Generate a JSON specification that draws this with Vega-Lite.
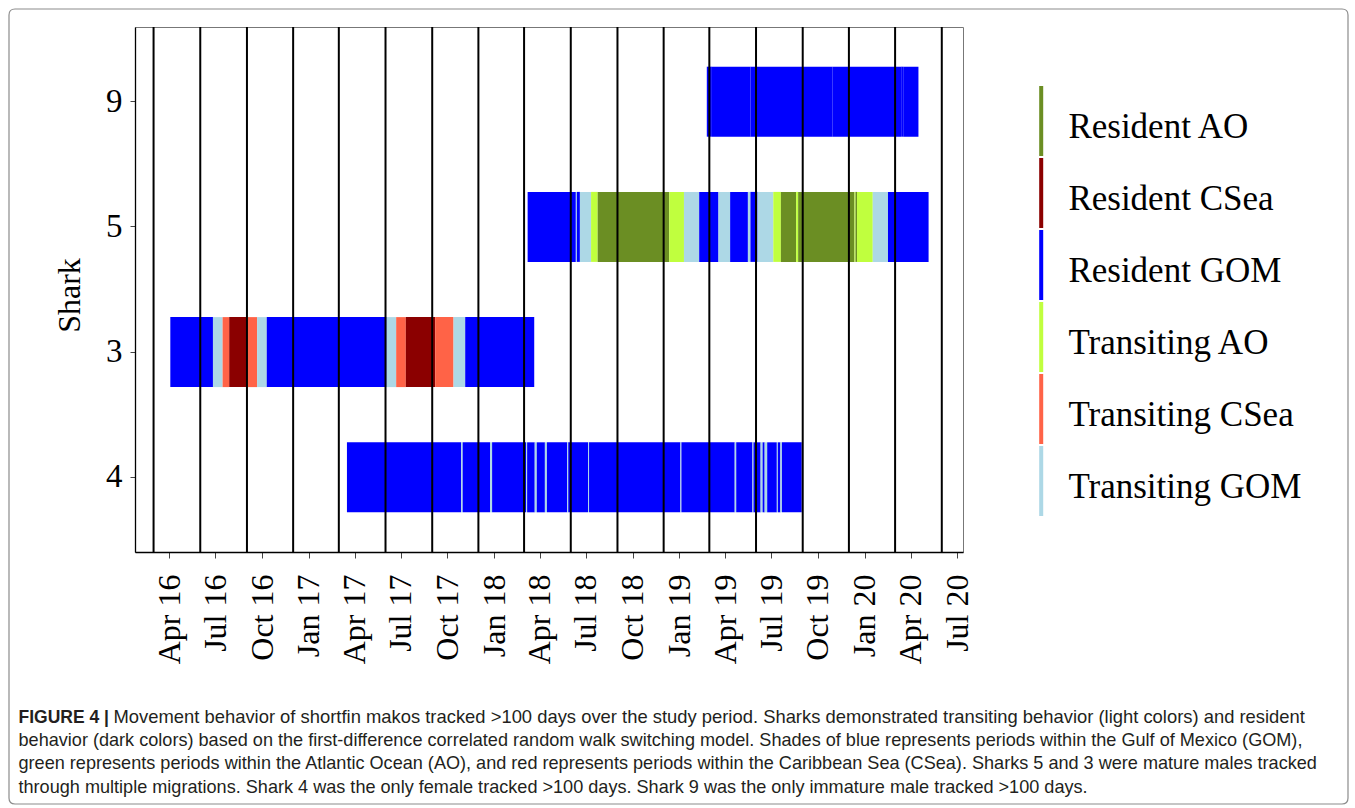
{
  "$schema": "https://vega.github.io/schema/vega-lite/v6.json",
  "width": 828,
  "height": 525,
  "autosize": {"type": "none"},
  "padding": {"left": 135, "top": 27, "right": 392, "bottom": 256},
  "background": "white",
  "config": {
    "view": {"stroke": "#777", "strokeWidth": 1},
    "font": "Liberation Serif"
  },
  "resolve": {"axis": {"x": "independent"}},
  "layer": [
    {
      "data": {
        "values": [
          {"shark": "3", "start": "2016-04-03", "end": "2016-06-26", "behavior": "Resident GOM"},
          {"shark": "3", "start": "2016-06-26", "end": "2016-07-15", "behavior": "Transiting GOM"},
          {"shark": "3", "start": "2016-07-15", "end": "2016-07-28", "behavior": "Transiting CSea"},
          {"shark": "3", "start": "2016-07-28", "end": "2016-08-31", "behavior": "Resident CSea"},
          {"shark": "3", "start": "2016-08-31", "end": "2016-09-21", "behavior": "Transiting CSea"},
          {"shark": "3", "start": "2016-09-21", "end": "2016-10-10", "behavior": "Transiting GOM"},
          {"shark": "3", "start": "2016-10-10", "end": "2017-06-03", "behavior": "Resident GOM"},
          {"shark": "3", "start": "2017-06-03", "end": "2017-06-22", "behavior": "Transiting GOM"},
          {"shark": "3", "start": "2017-06-22", "end": "2017-07-11", "behavior": "Transiting CSea"},
          {"shark": "3", "start": "2017-07-11", "end": "2017-09-07", "behavior": "Resident CSea"},
          {"shark": "3", "start": "2017-09-07", "end": "2017-10-13", "behavior": "Transiting CSea"},
          {"shark": "3", "start": "2017-10-13", "end": "2017-11-05", "behavior": "Transiting GOM"},
          {"shark": "3", "start": "2017-11-05", "end": "2018-03-21", "behavior": "Resident GOM"},

          {"shark": "4", "start": "2017-03-17", "end": "2017-10-28", "behavior": "Resident GOM"},
          {"shark": "4", "start": "2017-10-28", "end": "2017-10-31", "behavior": "Transiting GOM"},
          {"shark": "4", "start": "2017-10-31", "end": "2017-12-24", "behavior": "Resident GOM"},
          {"shark": "4", "start": "2017-12-24", "end": "2017-12-28", "behavior": "Transiting GOM"},
          {"shark": "4", "start": "2017-12-28", "end": "2018-03-05", "behavior": "Resident GOM"},
          {"shark": "4", "start": "2018-03-05", "end": "2018-03-07", "behavior": "Transiting GOM"},
          {"shark": "4", "start": "2018-03-07", "end": "2018-03-22", "behavior": "Resident GOM"},
          {"shark": "4", "start": "2018-03-22", "end": "2018-03-26", "behavior": "Transiting GOM"},
          {"shark": "4", "start": "2018-03-26", "end": "2018-04-11", "behavior": "Resident GOM"},
          {"shark": "4", "start": "2018-04-11", "end": "2018-04-15", "behavior": "Transiting GOM"},
          {"shark": "4", "start": "2018-04-15", "end": "2018-05-25", "behavior": "Resident GOM"},
          {"shark": "4", "start": "2018-05-25", "end": "2018-05-27", "behavior": "Transiting GOM"},
          {"shark": "4", "start": "2018-05-27", "end": "2018-07-05", "behavior": "Resident GOM"},
          {"shark": "4", "start": "2018-07-05", "end": "2018-07-07", "behavior": "Transiting GOM"},
          {"shark": "4", "start": "2018-07-07", "end": "2019-01-03", "behavior": "Resident GOM"},
          {"shark": "4", "start": "2019-01-03", "end": "2019-01-05", "behavior": "Transiting GOM"},
          {"shark": "4", "start": "2019-01-05", "end": "2019-04-20", "behavior": "Resident GOM"},
          {"shark": "4", "start": "2019-04-20", "end": "2019-04-23", "behavior": "Transiting GOM"},
          {"shark": "4", "start": "2019-04-23", "end": "2019-05-25", "behavior": "Resident GOM"},
          {"shark": "4", "start": "2019-05-25", "end": "2019-05-27", "behavior": "Transiting GOM"},
          {"shark": "4", "start": "2019-05-27", "end": "2019-06-10", "behavior": "Resident GOM"},
          {"shark": "4", "start": "2019-06-10", "end": "2019-06-14", "behavior": "Transiting GOM"},
          {"shark": "4", "start": "2019-06-14", "end": "2019-06-18", "behavior": "Resident GOM"},
          {"shark": "4", "start": "2019-06-18", "end": "2019-06-23", "behavior": "Transiting GOM"},
          {"shark": "4", "start": "2019-06-23", "end": "2019-07-12", "behavior": "Resident GOM"},
          {"shark": "4", "start": "2019-07-12", "end": "2019-07-14", "behavior": "Transiting GOM"},
          {"shark": "4", "start": "2019-07-14", "end": "2019-07-19", "behavior": "Resident GOM"},
          {"shark": "4", "start": "2019-07-19", "end": "2019-07-22", "behavior": "Transiting GOM"},
          {"shark": "4", "start": "2019-07-22", "end": "2019-08-30", "behavior": "Resident GOM"},

          {"shark": "5", "start": "2018-03-08", "end": "2018-06-11", "behavior": "Resident GOM"},
          {"shark": "5", "start": "2018-06-11", "end": "2018-06-13", "behavior": "Transiting GOM"},
          {"shark": "5", "start": "2018-06-13", "end": "2018-06-19", "behavior": "Resident GOM"},
          {"shark": "5", "start": "2018-06-19", "end": "2018-07-11", "behavior": "Transiting GOM"},
          {"shark": "5", "start": "2018-07-11", "end": "2018-07-24", "behavior": "Transiting AO"},
          {"shark": "5", "start": "2018-07-24", "end": "2018-12-12", "behavior": "Resident AO"},
          {"shark": "5", "start": "2018-12-12", "end": "2019-01-10", "behavior": "Transiting AO"},
          {"shark": "5", "start": "2019-01-10", "end": "2019-02-09", "behavior": "Transiting GOM"},
          {"shark": "5", "start": "2019-02-09", "end": "2019-03-19", "behavior": "Resident GOM"},
          {"shark": "5", "start": "2019-03-19", "end": "2019-04-11", "behavior": "Transiting GOM"},
          {"shark": "5", "start": "2019-04-11", "end": "2019-05-16", "behavior": "Resident GOM"},
          {"shark": "5", "start": "2019-05-16", "end": "2019-05-21", "behavior": "Transiting GOM"},
          {"shark": "5", "start": "2019-05-21", "end": "2019-06-04", "behavior": "Resident GOM"},
          {"shark": "5", "start": "2019-06-04", "end": "2019-07-05", "behavior": "Transiting GOM"},
          {"shark": "5", "start": "2019-07-05", "end": "2019-07-20", "behavior": "Transiting AO"},
          {"shark": "5", "start": "2019-07-20", "end": "2019-08-19", "behavior": "Resident AO"},
          {"shark": "5", "start": "2019-08-19", "end": "2019-08-23", "behavior": "Transiting AO"},
          {"shark": "5", "start": "2019-08-23", "end": "2019-12-12", "behavior": "Resident AO"},
          {"shark": "5", "start": "2019-12-12", "end": "2019-12-14", "behavior": "Transiting AO"},
          {"shark": "5", "start": "2019-12-14", "end": "2019-12-17", "behavior": "Resident AO"},
          {"shark": "5", "start": "2019-12-17", "end": "2020-01-17", "behavior": "Transiting AO"},
          {"shark": "5", "start": "2020-01-17", "end": "2020-02-16", "behavior": "Transiting GOM"},
          {"shark": "5", "start": "2020-02-16", "end": "2020-05-06", "behavior": "Resident GOM"},

          {"shark": "9", "start": "2019-02-24", "end": "2019-03-06", "behavior": "Resident GOM"},
          {"shark": "9", "start": "2019-03-06", "end": "2019-05-21", "behavior": "Resident GOM"},
          {"shark": "9", "start": "2019-05-21", "end": "2019-10-30", "behavior": "Resident GOM"},
          {"shark": "9", "start": "2019-10-30", "end": "2020-03-13", "behavior": "Resident GOM"},
          {"shark": "9", "start": "2020-03-13", "end": "2020-03-17", "behavior": "Resident GOM"},
          {"shark": "9", "start": "2020-03-17", "end": "2020-04-16", "behavior": "Resident GOM"}
        ]
      },
      "mark": {"type": "bar"},
      "encoding": {
        "x": {
          "field": "start",
          "type": "temporal",
          "scale": {
            "type": "utc",
            "domain": [
              {"year": 2016, "month": 1, "date": 24, "hours": 10, "utc": true},
              {"year": 2020, "month": 7, "date": 12, "hours": 19, "utc": true}
            ]
          },
          "axis": {
            "orient": "bottom",
            "values": [
              {"year": 2016, "month": 4, "date": 1, "utc": true},
              {"year": 2016, "month": 7, "date": 1, "utc": true},
              {"year": 2016, "month": 10, "date": 1, "utc": true},
              {"year": 2017, "month": 1, "date": 1, "utc": true},
              {"year": 2017, "month": 4, "date": 1, "utc": true},
              {"year": 2017, "month": 7, "date": 1, "utc": true},
              {"year": 2017, "month": 10, "date": 1, "utc": true},
              {"year": 2018, "month": 1, "date": 1, "utc": true},
              {"year": 2018, "month": 4, "date": 1, "utc": true},
              {"year": 2018, "month": 7, "date": 1, "utc": true},
              {"year": 2018, "month": 10, "date": 1, "utc": true},
              {"year": 2019, "month": 1, "date": 1, "utc": true},
              {"year": 2019, "month": 4, "date": 1, "utc": true},
              {"year": 2019, "month": 7, "date": 1, "utc": true},
              {"year": 2019, "month": 10, "date": 1, "utc": true},
              {"year": 2020, "month": 1, "date": 1, "utc": true},
              {"year": 2020, "month": 4, "date": 1, "utc": true},
              {"year": 2020, "month": 7, "date": 1, "utc": true}
            ],
            "labelExpr": "utcFormat(datum.value, '%b %y')",
            "labelAngle": -90,
            "labelFont": "Liberation Serif",
            "labelFontSize": 32,
            "labelColor": "black",
            "labelPadding": 16,
            "labelFlush": false,
            "labelOverlap": false,
            "labelBound": false,
            "tickSize": 6,
            "tickColor": "#444",
            "tickWidth": 1,
            "domainColor": "black",
            "domainWidth": 1.3,
            "grid": false,
            "title": [
              "behavior (dark colors) based on the first-difference correlated random walk switching model. Shades of blue represents periods within the Gulf of Mexico (GOM),",
              "green represents periods within the Atlantic Ocean (AO), and red represents periods within the Caribbean Sea (CSea). Sharks 5 and 3 were mature males tracked",
              "through multiple migrations. Shark 4 was the only female tracked >100 days. Shark 9 was the only immature male tracked >100 days."
            ],
            "titleFont": "Liberation Sans",
            "titleFontSize": 18.1,
            "titleFontWeight": "normal",
            "titleColor": "#231f20",
            "titleAngle": 0,
            "titleAlign": "left",
            "titleBaseline": "alphabetic",
            "titleLineHeight": 23.4,
            "titleX": -117,
            "titleY": 193.4,
            "titleLimit": 2000
          }
        },
        "x2": {"field": "end"},
        "y": {
          "field": "shark",
          "type": "nominal",
          "sort": ["9", "5", "3", "4"],
          "scale": {"paddingInner": 0.441, "paddingOuter": 0.317},
          "axis": {
            "title": "Shark",
            "titleFont": "Liberation Serif",
            "titleFontSize": 32,
            "titleFontWeight": "normal",
            "titleColor": "black",
            "titleAngle": -90,
            "titleAlign": "center",
            "titleBaseline": "alphabetic",
            "titleX": -56,
            "titleY": 268,
            "labelFont": "Liberation Serif",
            "labelFontSize": 33,
            "labelColor": "black",
            "labelPadding": 8,
            "labelAngle": 0,
            "tickSize": 5,
            "tickColor": "#444",
            "domainColor": "black",
            "domainWidth": 1.3,
            "grid": false
          }
        },
        "color": {
          "field": "behavior",
          "type": "nominal",
          "scale": {
            "domain": ["Resident AO", "Resident CSea", "Resident GOM", "Transiting AO", "Transiting CSea", "Transiting GOM"],
            "range": ["#6B8E23", "#8B0000", "#0000FF", "#C0FF3E", "#FF6347", "#ADD8E6"]
          },
          "legend": {
            "title": null,
            "orient": "none",
            "legendX": 870.2,
            "legendY": 58,
            "direction": "vertical",
            "padding": 0,
            "rowPadding": 0,
            "symbolType": "M-0.056,-0.978H0.056V0.978H-0.056Z",
            "symbolSize": 5127,
            "symbolStrokeWidth": 0,
            "symbolOpacity": 1,
            "labelFont": "Liberation Serif",
            "labelFontSize": 35,
            "labelColor": "black",
            "labelOffset": -8.8,
            "labelLimit": 500,
            "encode": {"labels": {"update": {"dy": {"value": 6}}}}
          }
        }
      }
    },
    {
      "data": {
        "values": [
          {"date": "2016-03-01"}, {"date": "2016-06-01"}, {"date": "2016-09-01"}, {"date": "2016-12-01"},
          {"date": "2017-03-01"}, {"date": "2017-06-01"}, {"date": "2017-09-01"}, {"date": "2017-12-01"}
        ]
      },
      "mark": {"type": "rule", "color": "black", "strokeWidth": 2},
      "encoding": {
        "x": {
          "field": "date",
          "type": "temporal",
          "axis": {
            "orient": "top",
            "labels": false,
            "ticks": false,
            "domain": false,
            "grid": false,
            "title": "FIGURE 4 |",
            "titleFont": "Liberation Sans",
            "titleFontSize": 17.5,
            "titleFontWeight": "bold",
            "titleColor": "#231f20",
            "titleAngle": 0,
            "titleAlign": "left",
            "titleBaseline": "alphabetic",
            "titleX": -117,
            "titleY": 695
          }
        },
        "opacity": {
          "datum": "figure frame",
          "type": "ordinal",
          "scale": {"range": [1]},
          "legend": {
            "title": null,
            "orient": "none",
            "legendX": -127,
            "legendY": -291,
            "padding": 0,
            "symbolType": "M-0.991,-0.5937H0.991Q1,-0.5937 1,-0.5847V0.5847Q1,0.5937 0.991,0.5937H-0.991Q-1,0.5937 -1,0.5847V-0.5847Q-1,-0.5937 -0.991,-0.5937Z",
            "symbolSize": 1792921,
            "symbolStrokeColor": "#8c8c8c",
            "symbolFillColor": "transparent",
            "symbolStrokeWidth": 1.2,
            "labelExpr": "''",
            "labelFontSize": 1
          }
        }
      }
    },
    {
      "data": {
        "values": [
          {"date": "2018-03-01"}, {"date": "2018-06-01"}, {"date": "2018-09-01"}, {"date": "2018-12-01"},
          {"date": "2019-03-01"}, {"date": "2019-06-01"}, {"date": "2019-09-01"}, {"date": "2019-12-01"},
          {"date": "2020-03-01"}, {"date": "2020-06-01"}
        ]
      },
      "mark": {"type": "rule", "color": "black", "strokeWidth": 2},
      "encoding": {
        "x": {
          "field": "date",
          "type": "temporal",
          "axis": {
            "orient": "top",
            "labels": false,
            "ticks": false,
            "domain": false,
            "grid": false,
            "title": "Movement behavior of shortfin makos tracked >100 days over the study period. Sharks demonstrated transiting behavior (light colors) and resident",
            "titleFont": "Liberation Sans",
            "titleFontSize": 18.4,
            "titleFontWeight": "normal",
            "titleColor": "#231f20",
            "titleAngle": 0,
            "titleAlign": "left",
            "titleBaseline": "alphabetic",
            "titleX": -22,
            "titleY": 695,
            "titleLimit": 2000
          }
        }
      }
    }
  ]
}
